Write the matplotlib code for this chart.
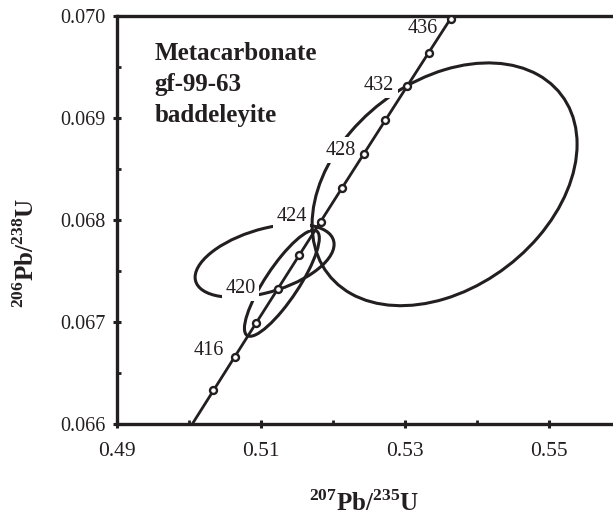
import numpy as np
import matplotlib
matplotlib.use("Agg")
import matplotlib.pyplot as plt
from matplotlib.patches import Ellipse

plt.rcParams['font.family'] = ['Liberation Serif', 'DejaVu Serif']
plt.rcParams['mathtext.fontset'] = 'custom'
plt.rcParams['mathtext.rm'] = 'Liberation Serif'
plt.rcParams['mathtext.bf'] = 'Liberation Serif:bold'

ink = '#231f20'

# concordia points (age in Ma, 207Pb/235U, 206Pb/238U)
ages = [410, 412, 414, 416, 418, 420, 422, 424, 426, 428, 430, 432, 434, 436, 438]
conc_x = [0.49749, 0.50044, 0.50340, 0.50636, 0.50933, 0.51231, 0.51529, 0.51828,
          0.52127, 0.52427, 0.52728, 0.53029, 0.53330, 0.53633, 0.53936]
conc_y = [0.065667, 0.065998, 0.066329, 0.066660, 0.066991, 0.067322, 0.067653,
          0.067984, 0.068316, 0.068647, 0.068979, 0.069311, 0.069642, 0.069974, 0.070306]
marker_ages = [414, 416, 418, 420, 422, 424, 426, 428, 430, 432, 434, 436]
label_ages = [416, 420, 424, 428, 432, 436]

# error ellipses: centre, half extent in x and y, correlation
ell_cx = [0.5355, 0.5105, 0.5129]
ell_cy = [0.06835, 0.06760, 0.06738]
ell_sx = [0.0184, 0.00965, 0.0052]
ell_sy = [0.00119, 0.000358, 0.00052]
ell_rho = [0.33, 0.45, 0.85]

sample_text = "Metacarbonate\ngf-99-63\nbaddeleyite"

fig = plt.figure(figsize=(6.13, 5.16), dpi=100)
ax = fig.add_axes([117/613, 92/516, 504/613, 408/516])

for cx, cy, sx, sy, r in zip(ell_cx, ell_cy, ell_sx, ell_sy, ell_rho):
    cov = np.array([[sx*sx, r*sx*sy], [r*sx*sy, sy*sy]])
    vals, vecs = np.linalg.eigh(cov)
    ang = np.degrees(np.arctan2(vecs[1, 1], vecs[0, 1]))
    e = Ellipse((cx, cy), 2*np.sqrt(vals[1]), 2*np.sqrt(vals[0]), angle=ang,
                fill=False, ec=ink, lw=2.2, zorder=2)
    ax.add_patch(e)

ax.plot(conc_x, conc_y, color=ink, lw=2.0, zorder=4)
idx = [ages.index(a) for a in marker_ages]
ax.plot([conc_x[i] for i in idx], [conc_y[i] for i in idx], 'o', ms=5,
        mfc='white', mec=ink, mew=1.7, zorder=5)

offsets = {416: (-11, 6), 420: (-22, 1), 424: (-14, 5), 428: (-8, 4),
           432: (-13, 1), 436: (-13, -10)}
for a in label_ages:
    i = ages.index(a)
    ax.annotate(str(a), (conc_x[i], conc_y[i]), xytext=offsets[a],
                textcoords='offset pixels', ha='right', va='center',
                fontsize=14.5, color=ink, zorder=2.3,
                bbox=dict(fc='white', ec='none', pad=2.5))

ax.text(0.075, 0.937, sample_text, transform=ax.transAxes, fontsize=18,
        fontweight='bold', color=ink, va='top', ha='left', linespacing=1.45)

ax.set_xlim(0.49, 0.56)
ax.set_ylim(0.066, 0.070)
ax.set_xticks([0.49, 0.51, 0.53, 0.55])
ax.set_xticklabels(['0.49', '0.51', '0.53', '0.55'])
ax.set_xticks([0.50, 0.52, 0.54], minor=True)
ax.set_yticks([0.066, 0.067, 0.068, 0.069, 0.070])
ax.set_yticklabels(['0.066', '0.067', '0.068', '0.069', '0.070'])
ax.set_yticks([0.0665, 0.0675, 0.0685, 0.0695], minor=True)
ax.tick_params(which='major', direction='inout', length=6, width=2.2,
               labelsize=14.5, labelcolor=ink, color=ink, pad=5)
ax.tick_params(axis='x', which='major', labelsize=15.5, pad=10)
ax.tick_params(which='minor', direction='in', length=3, width=2, color=ink)
for s in ['left', 'bottom', 'top']:
    ax.spines[s].set_linewidth(2.4)
    ax.spines[s].set_color(ink)
ax.spines['right'].set_visible(False)

ax.set_xlabel(r'$^{\mathbf{207}}\mathbf{Pb/}^{\mathbf{235}}\mathbf{U}$',
              fontsize=18, color=ink)
ax.xaxis.set_label_coords(0.49, -0.163)
ax.set_ylabel(r'$^{\mathbf{206}}\mathbf{Pb/}^{\mathbf{238}}\mathbf{U}$',
              fontsize=18, color=ink)
ax.yaxis.set_label_coords(-0.155, 0.42)

fig.savefig('out.png', dpi=100)
